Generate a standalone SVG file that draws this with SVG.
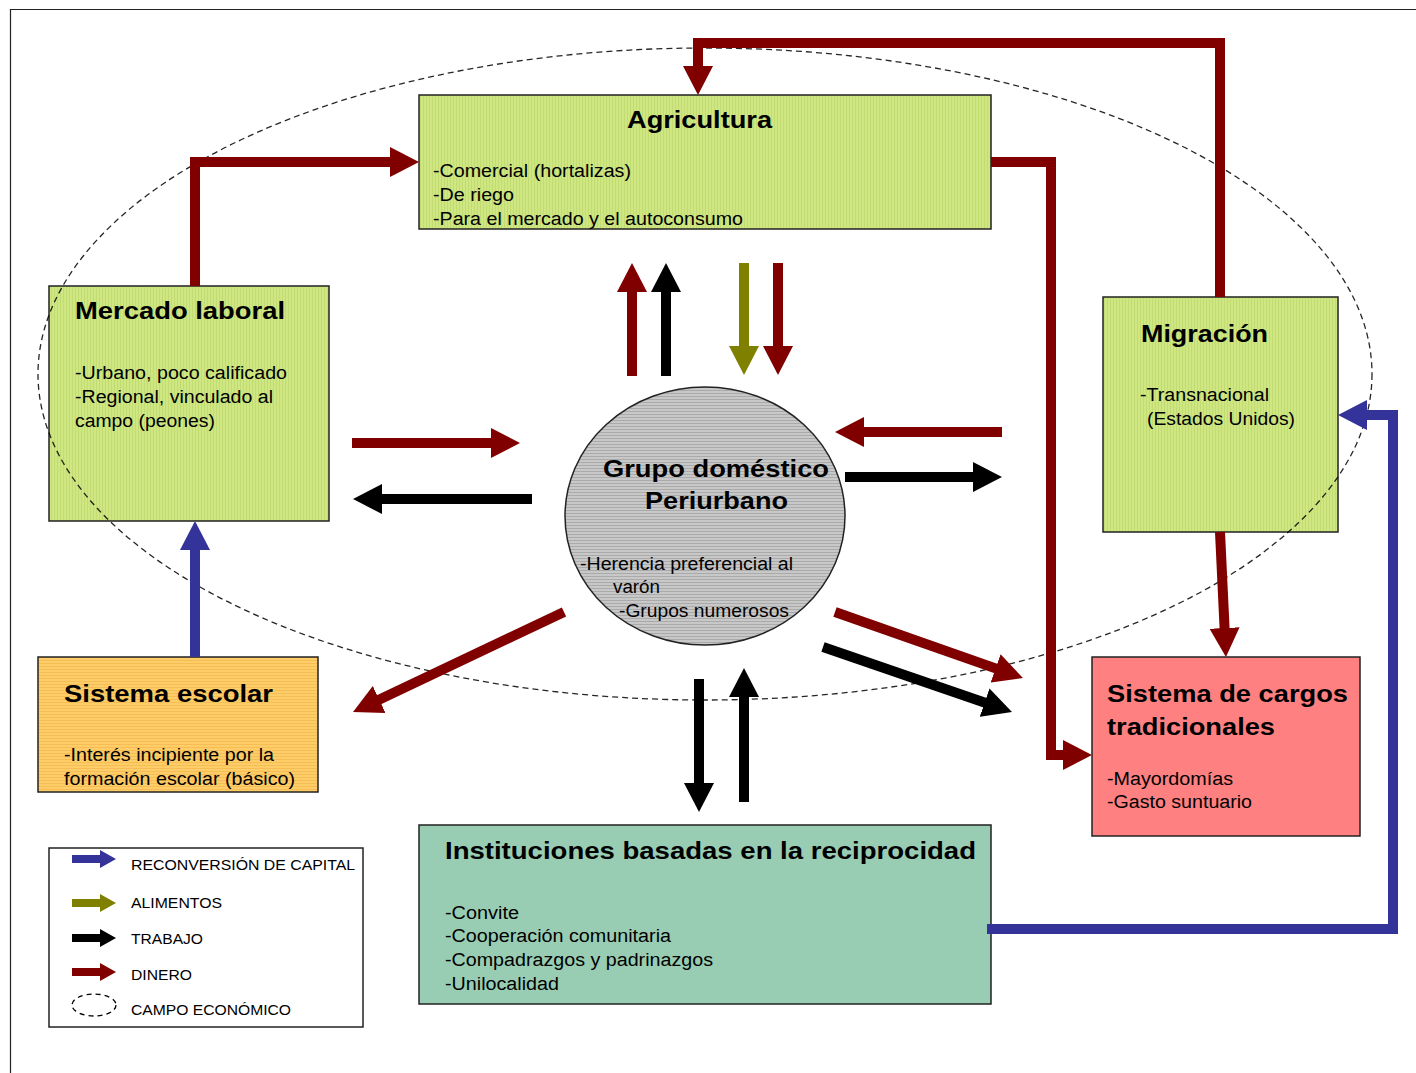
<svg xmlns="http://www.w3.org/2000/svg" width="1416" height="1073" viewBox="0 0 1416 1073">
<style>
text{font-family:"Liberation Sans",Arial,sans-serif;fill:#000}
.h{font-size:24px;font-weight:bold}
.b{font-size:18px}
.lg{font-size:15.5px}
.box{stroke:#222;stroke-width:1.5}
.c{fill:none;stroke-width:10;stroke-linejoin:miter;stroke-linecap:butt}
.red{stroke:#800000}
.blk{stroke:#000}
.olv{stroke:#808000}
.blu{stroke:#333399}
</style>
<defs>
<pattern id="pg" width="3" height="10" patternUnits="userSpaceOnUse">
<rect width="3" height="10" fill="#cee783"/><rect width="1" height="10" fill="#c2dc72"/>
</pattern>
<pattern id="po" width="10" height="3" patternUnits="userSpaceOnUse">
<rect width="10" height="3" fill="#ffcd68"/><rect width="10" height="1" fill="#f4bd55"/>
</pattern>
<pattern id="pc" width="10" height="3" patternUnits="userSpaceOnUse">
<rect width="10" height="3" fill="#c8c8c8"/><rect width="10" height="1" fill="#aaaaaa"/>
</pattern>
<marker id="mr" markerUnits="userSpaceOnUse" markerWidth="30" markerHeight="30" refX="9" refY="15" orient="auto" viewBox="0 0 30 30"><path d="M0,0 L29,15 L0,30 z" fill="#800000"/></marker>
<marker id="mk" markerUnits="userSpaceOnUse" markerWidth="30" markerHeight="30" refX="9" refY="15" orient="auto" viewBox="0 0 30 30"><path d="M0,0 L29,15 L0,30 z" fill="#000"/></marker>
<marker id="mo" markerUnits="userSpaceOnUse" markerWidth="30" markerHeight="30" refX="9" refY="15" orient="auto" viewBox="0 0 30 30"><path d="M0,0 L29,15 L0,30 z" fill="#808000"/></marker>
<marker id="mb" markerUnits="userSpaceOnUse" markerWidth="30" markerHeight="30" refX="9" refY="15" orient="auto" viewBox="0 0 30 30"><path d="M0,0 L29,15 L0,30 z" fill="#333399"/></marker>
</defs>
<rect width="1416" height="1073" fill="#fff"/>
<path d="M10.5,1073 V9.5 H1416" fill="none" stroke="#222" stroke-width="1.2"/>

<g id="agricultura">
<rect class="box" x="419" y="95" width="572" height="134" fill="url(#pg)"/>
<text class="h" x="627" y="128" textLength="145" lengthAdjust="spacingAndGlyphs">Agricultura</text>
<text class="b" x="433" y="177" textLength="198" lengthAdjust="spacingAndGlyphs">-Comercial (hortalizas)</text>
<text class="b" x="433" y="201" textLength="81" lengthAdjust="spacingAndGlyphs">-De riego</text>
<text class="b" x="433" y="225" textLength="310" lengthAdjust="spacingAndGlyphs">-Para el mercado y el autoconsumo</text>
</g>

<g id="mercado-laboral">
<rect class="box" x="49" y="286" width="280" height="235" fill="url(#pg)"/>
<text class="h" x="75" y="319" textLength="210" lengthAdjust="spacingAndGlyphs">Mercado laboral</text>
<text class="b" x="75" y="379" textLength="212" lengthAdjust="spacingAndGlyphs">-Urbano, poco calificado</text>
<text class="b" x="75" y="403" textLength="198" lengthAdjust="spacingAndGlyphs">-Regional, vinculado al</text>
<text class="b" x="75" y="427" textLength="140" lengthAdjust="spacingAndGlyphs">campo (peones)</text>
</g>

<g id="migracion">
<rect class="box" x="1103" y="297" width="235" height="235" fill="url(#pg)"/>
<text class="h" x="1141" y="342" textLength="127" lengthAdjust="spacingAndGlyphs">Migración</text>
<text class="b" x="1140" y="401" textLength="129" lengthAdjust="spacingAndGlyphs">-Transnacional</text>
<text class="b" x="1147" y="425" textLength="148" lengthAdjust="spacingAndGlyphs">(Estados Unidos)</text>
</g>

<g id="sistema-escolar">
<rect class="box" x="38" y="657" width="280" height="135" fill="url(#po)"/>
<text class="h" x="64" y="702" textLength="209" lengthAdjust="spacingAndGlyphs">Sistema escolar</text>
<text class="b" x="64" y="761" textLength="210" lengthAdjust="spacingAndGlyphs">-Interés incipiente por la</text>
<text class="b" x="64" y="785" textLength="231" lengthAdjust="spacingAndGlyphs">formación escolar (básico)</text>
</g>

<g id="sistema-cargos">
<rect class="box" x="1092" y="657" width="268" height="179" fill="#ff8080"/>
<text class="h" x="1107" y="702" textLength="241" lengthAdjust="spacingAndGlyphs">Sistema de cargos</text>
<text class="h" x="1107" y="735" textLength="168" lengthAdjust="spacingAndGlyphs">tradicionales</text>
<text class="b" x="1107" y="785" textLength="126" lengthAdjust="spacingAndGlyphs">-Mayordomías</text>
<text class="b" x="1107" y="808" textLength="145" lengthAdjust="spacingAndGlyphs">-Gasto suntuario</text>
</g>

<g id="instituciones">
<rect class="box" x="419" y="825" width="572" height="179" fill="#99cdb3"/>
<text class="h" x="445" y="859" textLength="531" lengthAdjust="spacingAndGlyphs">Instituciones basadas en la reciprocidad</text>
<text class="b" x="445" y="919" textLength="74" lengthAdjust="spacingAndGlyphs">-Convite</text>
<text class="b" x="445" y="942" textLength="226" lengthAdjust="spacingAndGlyphs">-Cooperación comunitaria</text>
<text class="b" x="445" y="966" textLength="268" lengthAdjust="spacingAndGlyphs">-Compadrazgos y padrinazgos</text>
<text class="b" x="445" y="990" textLength="114" lengthAdjust="spacingAndGlyphs">-Unilocalidad</text>
</g>

<g id="grupo-domestico">
<ellipse cx="705" cy="516" rx="140" ry="129" fill="url(#pc)" stroke="#222" stroke-width="1.5"/>
<text class="h" x="603" y="477" textLength="226" lengthAdjust="spacingAndGlyphs">Grupo doméstico</text>
<text class="h" x="645" y="509" textLength="143" lengthAdjust="spacingAndGlyphs">Periurbano</text>
<text class="b" x="580" y="570" textLength="213" lengthAdjust="spacingAndGlyphs">-Herencia preferencial al</text>
<text class="b" x="613" y="593" textLength="47" lengthAdjust="spacingAndGlyphs">varón</text>
<text class="b" x="619" y="617" textLength="170" lengthAdjust="spacingAndGlyphs">-Grupos numerosos</text>
</g>

<g id="campo-economico">
<ellipse cx="705" cy="374" rx="667" ry="326" fill="none" stroke="#000" stroke-opacity="0.85" stroke-width="1.3" stroke-dasharray="6 4"/>
</g>

<g id="connectors">
<path class="c red" d="M195,286 V162 H399" marker-end="url(#mr)"/>
<path class="c red" d="M1220,297 V43 H698 V75" marker-end="url(#mr)"/>
<path class="c red" d="M991,162 H1051 V755 H1072" marker-end="url(#mr)"/>
<path class="c red" d="M1220,532 L1225,637" marker-end="url(#mr)"/>
<path class="c blu" d="M987,929 H1393 V415 H1358" marker-end="url(#mb)"/>
<path class="c blu" d="M195,657 V541" marker-end="url(#mb)"/>
<path class="c red" d="M632,376 V283" marker-end="url(#mr)"/>
<path class="c blk" d="M666,376 V283" marker-end="url(#mk)"/>
<path class="c olv" d="M744,263 V355" marker-end="url(#mo)"/>
<path class="c red" d="M778,263 V355" marker-end="url(#mr)"/>
<path class="c red" d="M352,443 H500" marker-end="url(#mr)"/>
<path class="c blk" d="M532,499 H373" marker-end="url(#mk)"/>
<path class="c red" d="M1002,432 H855" marker-end="url(#mr)"/>
<path class="c blk" d="M845,477 H982" marker-end="url(#mk)"/>
<path class="c red" d="M564,612 L371.1,703.4" marker-end="url(#mr)"/>
<path class="c red" d="M835,612 L1004.1,671.4" marker-end="url(#mr)"/>
<path class="c blk" d="M823,647 L993.1,705.5" marker-end="url(#mk)"/>
<path class="c blk" d="M699,679 V792" marker-end="url(#mk)"/>
<path class="c blk" d="M744,802 V688" marker-end="url(#mk)"/>
</g>

<g id="legend">
<rect x="49" y="848" width="314" height="179" fill="#fff" stroke="#222" stroke-width="1.5"/>
<path d="M72,855 H100 V850 L116,859 L100,868 V863 H72 z" fill="#333399"/>
<path d="M72,899 H100 V894 L116,903 L100,912 V907 H72 z" fill="#808000"/>
<path d="M72,934 H100 V929 L116,938 L100,947 V942 H72 z" fill="#000"/>
<path d="M72,968 H100 V963 L116,972 L100,981 V976 H72 z" fill="#800000"/>
<ellipse cx="94" cy="1005" rx="22" ry="11" fill="none" stroke="#000" stroke-width="1.3" stroke-dasharray="5 4"/>
<text class="lg" x="131" y="870" textLength="224" lengthAdjust="spacingAndGlyphs">RECONVERSIÓN DE CAPITAL</text>
<text class="lg" x="131" y="908" textLength="91" lengthAdjust="spacingAndGlyphs">ALIMENTOS</text>
<text class="lg" x="131" y="944" textLength="72" lengthAdjust="spacingAndGlyphs">TRABAJO</text>
<text class="lg" x="131" y="980" textLength="61" lengthAdjust="spacingAndGlyphs">DINERO</text>
<text class="lg" x="131" y="1015" textLength="160" lengthAdjust="spacingAndGlyphs">CAMPO ECONÓMICO</text>
</g>
</svg>
